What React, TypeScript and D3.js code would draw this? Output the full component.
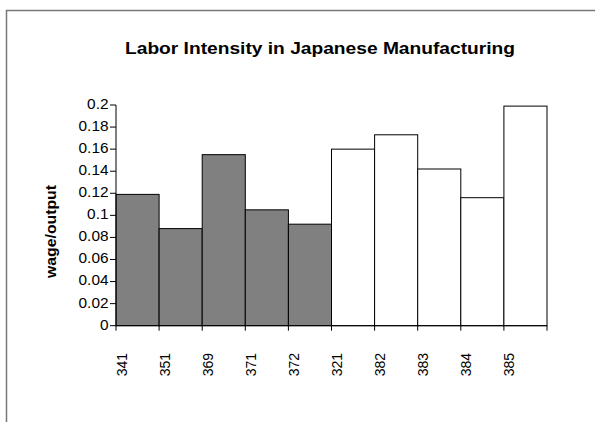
import React from "react";
import * as d3 from "d3";

// Industry codes and wage/output ratios
const industries = ["341", "351", "369", "371", "372", "321", "382", "383", "384", "385"];
const wageOutput = [0.119, 0.088, 0.155, 0.105, 0.092, 0.16, 0.173, 0.142, 0.116, 0.199];
// First five industries are shaded
const shaded = [true, true, true, true, true, false, false, false, false, false];
const yTicks = [0, 0.02, 0.04, 0.06, 0.08, 0.1, 0.12, 0.14, 0.16, 0.18, 0.2];
const yTickLabels = ["0", "0.02", "0.04", "0.06", "0.08", "0.1", "0.12", "0.14", "0.16", "0.18", "0.2"];

const W = 595;
const H = 422;
const FONT = "'Liberation Sans', Arial, sans-serif";

export default function App() {
  const x = d3.scaleBand<string>().domain(industries).range([116, 547]).padding(0);
  const y = d3.scaleLinear().domain([0, 0.2]).range([325.7, 105]);
  const y0 = y(0);
  const bw = x.bandwidth();
  const boundaries = [...industries.map((c) => x(c) as number), 547];

  return (
    <svg
      width={W}
      height={H}
      style={{ position: "absolute", left: 0, top: 0, background: "#fff" }}
      fontFamily={FONT}
    >
      <rect x={0} y={0} width={W} height={H} fill="#fff" />
      {/* chart frame */}
      <path d={`M6.5,${H} V10.5 H${W}`} fill="none" stroke="#777" strokeWidth={1.5} />

      <text
        x={125}
        y={54.3}
        textLength={390}
        lengthAdjust="spacingAndGlyphs"
        fontSize={16}
        fontWeight="bold"
        fill="#000"
      >
        Labor Intensity in Japanese Manufacturing
      </text>

      {/* bars */}
      {industries.map((c, i) => (
        <rect
          key={c}
          x={x(c) as number}
          y={y(wageOutput[i])}
          width={bw}
          height={y0 - y(wageOutput[i])}
          fill={shaded[i] ? "#808080" : "#fff"}
          stroke="#000"
          strokeWidth={1}
        />
      ))}

      {/* y axis */}
      <line x1={116} x2={116} y1={y(0.2)} y2={y0} stroke="#000" strokeWidth={1} />
      {yTicks.map((t, i) => (
        <g key={t}>
          <line x1={110} x2={116} y1={y(t)} y2={y(t)} stroke="#000" strokeWidth={1} />
          <text
            transform={`translate(108.5,${y(t)}) scale(1.1,1)`}
            dy="0.28em"
            textAnchor="end"
            fontSize={14}
            fill="#000"
          >
            {yTickLabels[i]}
          </text>
        </g>
      ))}
      <text
        transform={`translate(56,185) rotate(-90)`}
        x={-93}
        textLength={93}
        lengthAdjust="spacingAndGlyphs"
        fontSize={14}
        fontWeight="bold"
        fill="#000"
      >
        wage/output
      </text>

      {/* x axis */}
      <line x1={116} x2={547} y1={y0} y2={y0} stroke="#000" strokeWidth={1} />
      {boundaries.map((b, i) => (
        <line key={i} x1={b} x2={b} y1={y0} y2={y0 + 5} stroke="#000" strokeWidth={1} />
      ))}
      {industries.map((c) => (
        <text
          key={c}
          transform={`translate(${(x(c) as number) + 10.5},353) rotate(-90)`}
          textAnchor="end"
          fontSize={14}
          fill="#000"
        >
          {c}
        </text>
      ))}
    </svg>
  );
}
